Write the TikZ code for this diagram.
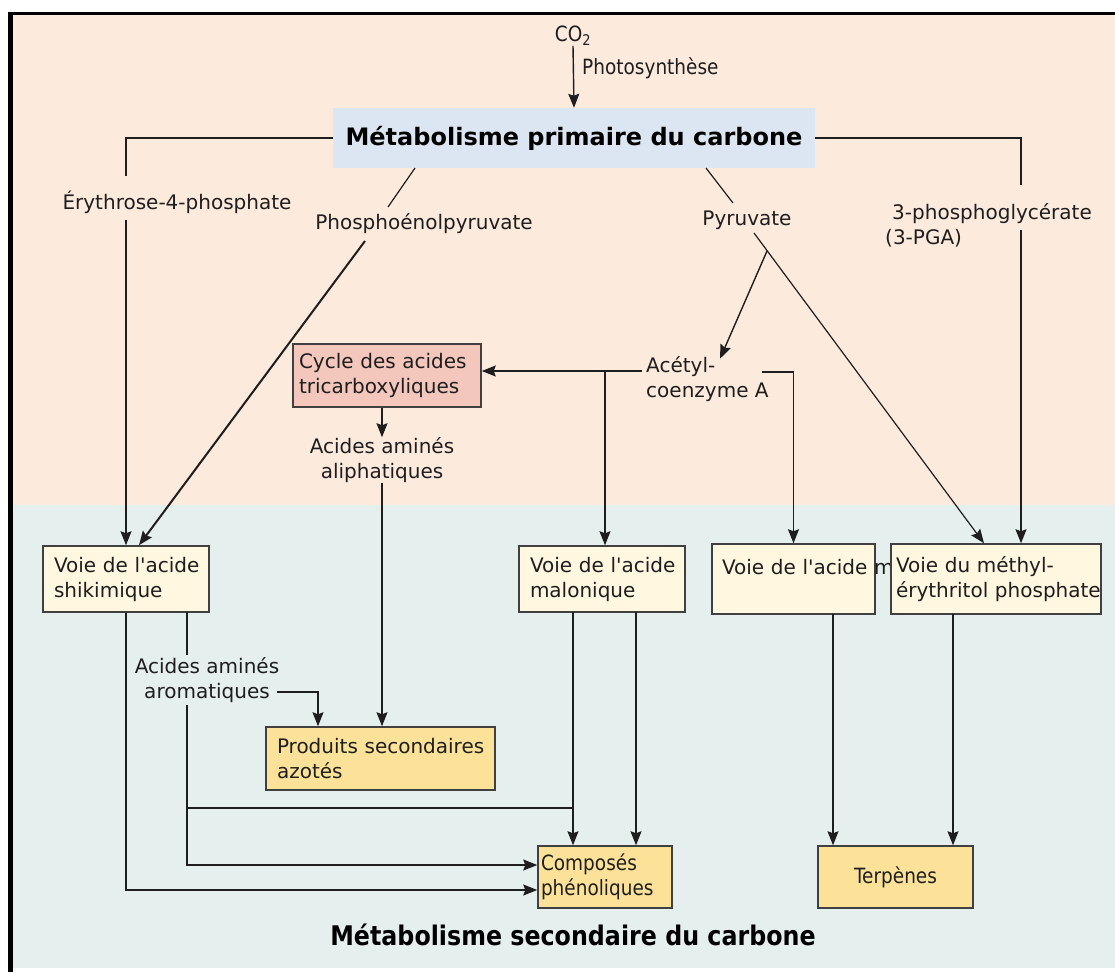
\documentclass[tikz,border=0pt]{standalone}
\usepackage{fontspec}
\setmainfont{DejaVu Sans}[Ligatures=TeXOff]
\newfontfamily\condfont{DejaVu Sans}[FakeStretch=0.88]
\usetikzlibrary{arrows.meta}
\definecolor{peach}{RGB}{252,234,221}
\definecolor{bluegrey}{RGB}{229,239,238}
\definecolor{primblue}{RGB}{220,230,242}
\definecolor{tcapink}{RGB}{244,199,188}
\definecolor{cream}{RGB}{255,247,224}
\definecolor{yellowbox}{RGB}{252,226,152}
\definecolor{ink}{RGB}{30,30,30}
\begin{document}
\begin{tikzpicture}[x=1pt,y=-1pt,
  lbl/.style={inner sep=0pt, font=\fontsize{20}{25}\selectfont, text=ink, align=center},
  boxbase/.style={draw=ink!85, line width=1.5pt, inner ysep=0pt, align=left, text=ink,
    font=\fontsize{20}{25}\selectfont},
  vbox/.style={boxbase, fill=cream},
  ybox/.style={boxbase, fill=yellowbox},
  conn/.style={draw=ink, line width=1.4pt},
  arr/.style={conn, -{Stealth[length=14pt,width=11pt,inset=2pt]}},
]
\useasboundingbox (0,0) rectangle (1115,972);
% backgrounds and frame
\fill[peach] (12,14) rectangle (1115,505);
\fill[bluegrey] (12,505) rectangle (1115,968);
\draw[black, line width=4.5pt] (10.5,972) -- (10.5,13.5);
\draw[black, line width=3pt] (8.25,13.5) -- (1115,13.5);

% top
\node[lbl, font=\condfont\fontsize{21}{25}\selectfont] (co2) at (573,36) {CO\textsubscript{2}};
\node[fill=primblue, minimum width=482pt, minimum height=60pt, inner sep=0pt,
  font=\bfseries\fontsize{24}{28}\selectfont, text=black] (prim) at (574,138)
  {Métabolisme primaire du carbone};
\draw[arr] (co2.south) -- (prim.north);
\node[lbl, anchor=west, font=\condfont\fontsize{21}{25}\selectfont] (photo) at (582,68) {Photosynthèse};

% intermediate labels
\node[lbl] (ery) at (177,202) {Érythrose-4-phosphate};
\node[lbl] (pep) at (424,224) {Phosphoénolpyruvate};
\node[lbl] (pyr) at (747,220) {Pyruvate};
\node[lbl, anchor=west, align=left] (pga) at (885,225.5) {\hspace*{7pt}3-phosphoglycérate\\(3-PGA)};
\node[lbl, anchor=west, align=left] (acetyl) at (646,379.5) {Acétyl-\\coenzyme A};
\node[lbl] (aliph) at (382,460) {Acides aminés\\aliphatiques};
\node[lbl] (arom) at (207,680) {Acides aminés\\aromatiques};

% boxes
\node[boxbase, fill=tcapink, minimum width=188pt, minimum height=63pt, text width=176pt, inner xsep=4pt] (tca) at (387,375.5)
  {\mbox{Cycle des acides}\\\mbox{tricarboxyliques}};
\node[vbox, minimum height=66pt, text width=144pt, inner xsep=11pt] (shik) at (126,579)
  {\mbox{Voie de l'acide}\\\mbox{shikimique}};
\node[vbox, minimum height=66pt, text width=144pt, inner xsep=11pt] (mal) at (602,579)
  {\mbox{Voie de l'acide}\\\mbox{malonique}};
\node[vbox, minimum height=70pt, text width=143pt, inner xsep=10pt] (meva) at (793.5,579)
  {\mbox{Voie de l'acide mévalonique}\\\mbox{}};
\node[vbox, minimum height=70pt, text width=200pt, inner xsep=5pt] (mep) at (996,579)
  {\mbox{Voie du méthyl-}\\\mbox{érythritol phosphate}};
\node[ybox, minimum height=63pt, text width=207pt, inner xsep=11pt] (prod) at (380.5,758.5)
  {\mbox{Produits secondaires}\\\mbox{azotés}};
\node[ybox, minimum height=62pt, text width=128pt, inner xsep=3pt, font=\condfont\fontsize{21}{25}\selectfont] (comp) at (605,877)
  {\mbox{Composés}\\\mbox{phénoliques}};
\node[ybox, minimum height=62pt, minimum width=155pt, align=center, font=\condfont\fontsize{21}{25}\selectfont] (terp) at (895.5,877)
  {Terpènes};
\node[lbl, font=\condfont\bfseries\fontsize{27}{30}\selectfont, text=black] (sec) at (573,935)
  {Métabolisme secondaire du carbone};

% coordinates for connector breaks
\coordinate (e1) at (126,176);
\coordinate (e2) at (126,220);
\coordinate (p0) at (415,168);
\coordinate (p1) at (388,207);
\coordinate (p2) at (365,241);
\coordinate (y0) at (706,168);
\coordinate (y1) at (733,203);
\coordinate (y2) at (754,233);
\coordinate (yb) at (767,251);
\coordinate (g1) at (1021,185);
\coordinate (g2) at (1021,230);
\coordinate (a1) at (642,371);
\coordinate (aj) at (605,371);
\coordinate (a2) at (762,372);
\coordinate (s1) at (187,655);
\coordinate (s0) at (187,612);
\coordinate (s2) at (187,705);
\coordinate (r1) at (277,692);
\coordinate (h1) at (187,808);
\coordinate (ml1) at (573,612);
\coordinate (ml2) at (636,612);
\coordinate (h2) at (573,808);
\coordinate (mv) at (833,614);
\coordinate (mp) at (953,614);

% primary branches
\draw[conn] (prim.west) -| (e1);
\draw[arr] (e2) -- (e2 |- shik.north);
\draw[conn, line width=1.2pt] (p0) -- (p1);
\draw[arr, line width=2pt] (p2) -- ([xshift=13pt]shik.north);
\draw[conn, line width=1.2pt] (y0) -- (y1);
\draw[arr, line width=1.2pt] (y2) -- ([xshift=-12pt]mep.north);
\draw[arr] (yb) -- ([xshift=74pt,yshift=-2pt]acetyl.north west);
\draw[conn] (prim.east) -| (g1);
\draw[arr] (g2) -- (g2 |- mep.north);

% acetyl-CoA
\draw[arr] (a1) -- (a1 -| tca.east);
\draw[arr] (aj) -- (aj |- mal.north);
\draw[arr] (a2) -| (meva.north);

% TCA
\draw[arr] (aliph.north |- tca.south) -- (aliph.north);
\draw[arr] (aliph.south) -- (aliph.south |- prod.north);

% shikimate outputs
\draw[conn] (s0) -- (s1);
\draw[arr] (s2) |- ([yshift=12pt]comp.west);
\draw[arr] (shik.south) |- ([yshift=-13pt]comp.west);
\draw[arr] (r1) -| ([xshift=-62.5pt]prod.north);
\draw[conn] (h1) -- (h2);

% malonate, MVA, MEP outputs
\draw[arr] (ml1) -- (ml1 |- comp.north);
\draw[arr] (ml2) -- (ml2 |- comp.north);
\draw[arr] (mv) -- (mv |- terp.north);
\draw[arr] (mp) -- (mp |- terp.north);
\end{tikzpicture}
\end{document}
